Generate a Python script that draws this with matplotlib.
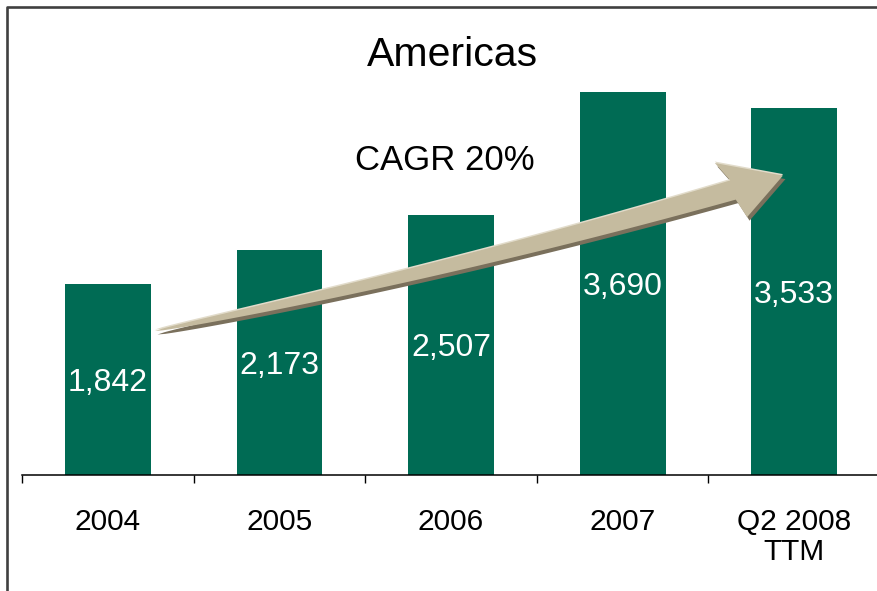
import numpy as np
import matplotlib
matplotlib.use("Agg")
import matplotlib.pyplot as plt
from matplotlib.patches import Polygon

plt.rcParams['font.family'] = ['Liberation Sans', 'DejaVu Sans']

categories = ["2004", "2005", "2006", "2007", "Q2 2008\nTTM"]
values = [1842, 2173, 2507, 3690, 3533]
value_labels = ["1,842", "2,173", "2,507", "3,690", "3,533"]

BAR_COLOR = "#006B54"
W, H = 878, 591

fig = plt.figure(figsize=(W / 100, H / 100), dpi=100)
ax = fig.add_axes([22 / W, (H - 475) / H, 858 / W, 456.5 / H])

x = np.arange(len(categories))
ax.bar(x, values, width=0.5, color=BAR_COLOR, edgecolor="none", zorder=2)
for xi, v, lab in zip(x, values, value_labels):
    ax.text(xi, v / 2, lab, ha="center", va="center_baseline", color="white", fontsize=23, zorder=5)

ax.set_xlim(-0.5, len(categories) - 0.5)
ax.set_ylim(0, 4400)
for s in ["top", "right", "left"]:
    ax.spines[s].set_visible(False)
ax.spines["bottom"].set_linewidth(1.1)
ax.spines["bottom"].set_color("black")
ax.set_yticks([])
ax.set_xticks(x)
ax.set_xticklabels(categories, fontsize=21.5, linespacing=1.08, va="top")
ax.tick_params(axis="x", which="major", length=0, pad=24)
ax.set_xticks(np.arange(-0.5, len(categories)), minor=True)
ax.tick_params(axis="x", which="minor", length=6, width=1.0, direction="out", color="black")

fig.text(452 / W, 1 - 55 / H, "Americas", ha="center", va="center", fontsize=29.5)
fig.text(445 / W, 1 - 160 / H, "CAGR 20%", ha="center", va="center", fontsize=25)

# overlay in pixel coordinates for frame and growth arrow
ov = fig.add_axes([0, 0, 1, 1], zorder=3)
ov.set_xlim(0, W)
ov.set_ylim(H, 0)
ov.axis("off")
ov.patch.set_alpha(0)

ov.plot([7.5, 7.5, W], [H, 6.5, 6.5], color="#404040", lw=1.9, solid_capstyle="butt")

# curved tapering arrow (quadratic bezier centre line)
P0 = np.array([155.0, 331.0])
P1 = np.array([452.0, 271.0])
P2 = np.array([733.0, 190.0])
t = np.linspace(0, 1, 80)[:, None]
c = (1 - t) ** 2 * P0 + 2 * (1 - t) * t * P1 + t ** 2 * P2
d = 2 * (1 - t) * (P1 - P0) + 2 * t * (P2 - P1)
d = d / np.linalg.norm(d, axis=1, keepdims=True)
n = np.column_stack([-d[:, 1], d[:, 0]])
hw = 10.0 * t[:, 0] ** 0.55
upper = c + n * hw[:, None]
lower = c - n * hw[:, None]
de = d[-1]
ne = n[-1]
tip = P2 + 52 * de
corner_a = P2 - 10 * de - 31 * ne
corner_b = P2 + 6 * de + 30 * ne
outline = np.vstack([upper, [corner_b], [tip], [corner_a], lower[::-1]])


def arrow_shape(offset, color, z):
    ov.add_patch(Polygon(outline + offset, closed=True, facecolor=color, edgecolor="none", zorder=z))


arrow_shape(np.array([2.5, 3.5]), "#7A705C", 3)
arrow_shape(np.array([0.0, -1.5]), "#E2DCCB", 4)
arrow_shape(np.array([0.0, 0.0]), "#C5BB9F", 5)

fig.savefig("out.png", dpi=100)
